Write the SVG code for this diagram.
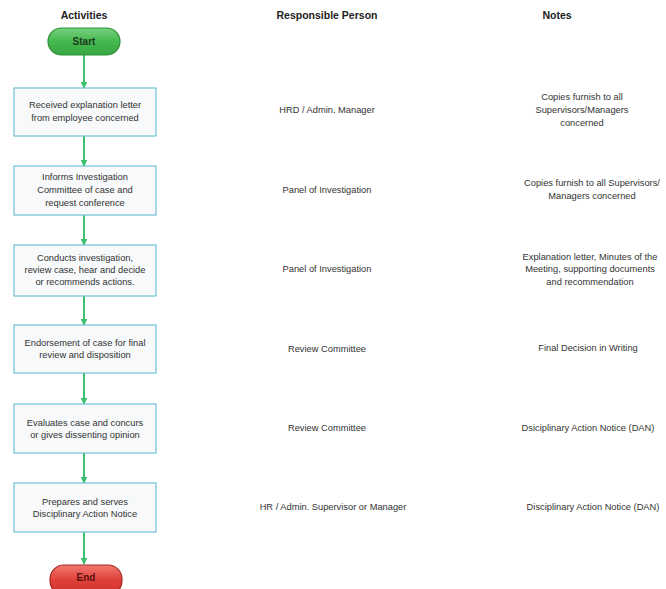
<svg xmlns="http://www.w3.org/2000/svg" width="666" height="589" viewBox="0 0 666 589">
<defs>
<linearGradient id="gGreen" x1="0" y1="0" x2="0" y2="1"><stop offset="0" stop-color="#7ad27f"/><stop offset="0.5" stop-color="#44b84e"/><stop offset="1" stop-color="#3aa844"/></linearGradient>
<linearGradient id="gRed" x1="0" y1="0" x2="0" y2="1"><stop offset="0" stop-color="#f07a70"/><stop offset="0.5" stop-color="#e0403a"/><stop offset="1" stop-color="#cc2f2a"/></linearGradient>
<marker id="arr" viewBox="0 0 10 10" refX="9" refY="5" markerWidth="7" markerHeight="7" orient="auto" markerUnits="userSpaceOnUse"><path d="M0,0 L10,5 L0,10 z" fill="#3cbf6e"/></marker>
<style>
text{font-family:"Liberation Sans",Arial,sans-serif;font-size:9.3px;fill:#333;text-anchor:middle}
.h{font-weight:bold;font-size:10.5px;fill:#222}
.box{fill:#f7f9fa;stroke:#6fc0d8;stroke-width:1.2}
.conn{stroke:#3cbf6e;stroke-width:2;fill:none;marker-end:url(#arr)}
.pt{font-weight:bold;font-size:10px}
</style>
</defs>
<rect width="666" height="589" fill="#ffffff"/>
<g id="headers">
<text class="h" x="84" y="19">Activities</text>
<text class="h" x="327" y="19">Responsible Person</text>
<text class="h" x="557" y="19">Notes</text>
</g>
<g id="connectors">
<line class="conn" x1="84" y1="55" x2="84" y2="88"/>
<line class="conn" x1="84" y1="136" x2="84" y2="166"/>
<line class="conn" x1="84" y1="215" x2="84" y2="245"/>
<line class="conn" x1="84" y1="296" x2="84" y2="325"/>
<line class="conn" x1="84" y1="373" x2="84" y2="404"/>
<line class="conn" x1="84" y1="453" x2="84" y2="483"/>
<line class="conn" x1="84" y1="532" x2="84" y2="564"/>
</g>
<g id="start">
<rect x="48" y="28" width="72" height="27" rx="13.5" fill="url(#gGreen)" stroke="#2f8f3a" stroke-width="1.2"/>
<text class="pt" x="84" y="45" style="fill:#1d3b1f">Start</text>
</g>
<g id="step1">
<rect class="box" x="14" y="88" width="142" height="48"/>
<text x="85" y="108">Received explanation letter</text>
<text x="85" y="121">from employee concerned</text>
</g>
<g id="step2">
<rect class="box" x="14" y="166" width="142" height="49"/>
<text x="85" y="180">Informs Investigation</text>
<text x="85" y="193">Committee of case and</text>
<text x="85" y="206">request conference</text>
</g>
<g id="step3">
<rect class="box" x="14" y="245" width="142" height="51"/>
<text x="85" y="261">Conducts investigation,</text>
<text x="85" y="273">review case, hear and decide</text>
<text x="85" y="285">or recommends actions.</text>
</g>
<g id="step4">
<rect class="box" x="14" y="325" width="142" height="48"/>
<text x="85" y="346">Endorsement of case for final</text>
<text x="85" y="358">review and disposition</text>
</g>
<g id="step5">
<rect class="box" x="14" y="404" width="142" height="49"/>
<text x="85" y="426">Evaluates case and concurs</text>
<text x="85" y="438">or gives dissenting opinion</text>
</g>
<g id="step6">
<rect class="box" x="14" y="483" width="142" height="49"/>
<text x="85" y="505">Prepares and serves</text>
<text x="85" y="517">Disciplinary Action Notice</text>
</g>
<g id="end">
<rect x="50" y="565" width="72" height="30" rx="14" fill="url(#gRed)" stroke="#a82822" stroke-width="1.2"/>
<text class="pt" x="86" y="581" style="fill:#5a1210">End</text>
</g>
<g id="responsible">
<text x="327" y="113">HRD / Admin. Manager</text>
<text x="327" y="193">Panel of Investigation</text>
<text x="327" y="272">Panel of Investigation</text>
<text x="327" y="352">Review Committee</text>
<text x="327" y="431">Review Committee</text>
<text x="333" y="510">HR / Admin. Supervisor or Manager</text>
</g>
<g id="notes">
<text x="582" y="100">Copies furnish to all</text>
<text x="582" y="113">Supervisors/Managers</text>
<text x="582" y="126">concerned</text>
<text x="592" y="186">Copies furnish to all Supervisors/</text>
<text x="592" y="199">Managers concerned</text>
<text x="590" y="260">Explanation letter, Minutes of the</text>
<text x="590" y="272">Meeting, supporting documents</text>
<text x="590" y="285">and recommendation</text>
<text x="588" y="351">Final Decision in Writing</text>
<text x="588" y="431">Dsiciplinary Action Notice (DAN)</text>
<text x="593" y="510">Disciplinary Action Notice (DAN)</text>
</g>
</svg>
